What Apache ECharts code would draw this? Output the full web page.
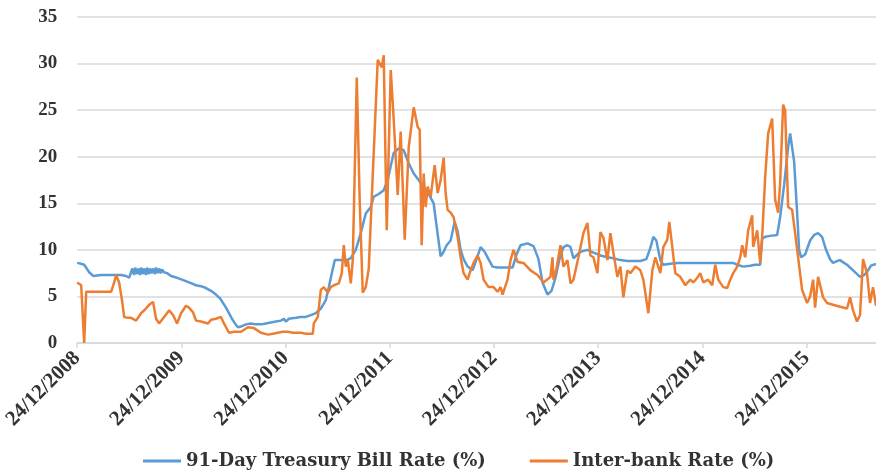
<!DOCTYPE html>
<html>
<head>
<meta charset="utf-8">
<script src="https://cdn.jsdelivr.net/npm/echarts@6/dist/echarts.min.js"></script>
<style>
html,body{margin:0;padding:0;background:#fff;}
#chart{width:876px;height:471px;}
</style>
</head>
<body>
<div id="chart"></div>
<script>
// x values: weeks since 24/12/2008 (weekly observations)
const tickWeeks = [0, 52.2, 104.4, 156.5, 208.7, 260.9, 313.1, 365.3];
const tickLabels = ['24/12/2008','24/12/2009','24/12/2010','24/12/2011','24/12/2012','24/12/2013','24/12/2014','24/12/2015'];
const yTicks = [0, 5, 10, 15, 20, 25, 30, 35];

const tbillWeek = [0,2,3.5,6,8,12,17,22,24.5,26,27,27.5,28.5,29,30,30.5,31.5,32,33,33.5,34.5,35,36,36.5,37.5,38,39,39.5,40.5,41,42,42.5,43.5,
45,47,50,52.5,56,59.5,62,64.5,67,69.5,71.5,73,74.5,76,77.5,79,80.5,82.5,84.5,87,89.5,92,94.5,97,99.5,102,103.5,104.5,106,107,109.5,112,114.5,117,119.5,122,124.5,126,127.5,129,132,135,137,139.5,142,144.5,147,148.5,151,153.5,155.5,157,158.5,161,163.5,166,168.5,172,175.5,178.5,180,182,183.5,185,187,189,190.5,192,193.5,195.5,198,200,202,204,205.5,208,210.5,214.5,218,220,222,225.5,228.5,231,233,235.5,237.5,239.5,241.5,243.5,245.5,247,248.5,250.5,252,255.5,258.5,262,265.5,268.5,272,275.5,278.5,282,285,287,288.5,290,292,293.5,297,300.5,304.5,308.5,312,317,322,325.5,328.5,330.5,333.5,337,339.5,342,343,344.5,347,350.5,352,354,356,357,358,359,360.5,361.5,362.5,364.5,367,369,371,373,375,377,378.5,380.5,382,384,385.5,388,390,392,394,395.5,397.5,400];
const tbillRate = [8.6,8.5,8.4,7.6,7.2,7.3,7.3,7.3,7.2,7.0,7.6,8.0,7.3,8.1,7.4,8.0,7.3,8.1,7.4,8.0,7.3,8.1,7.4,8.0,7.5,8.0,7.4,8.1,7.5,8.0,7.5,7.9,7.6,
7.5,7.2,7.0,6.8,6.5,6.2,6.1,5.9,5.6,5.2,4.8,4.3,3.8,3.2,2.6,2.1,1.7,1.8,2.0,2.1,2.0,2.0,2.1,2.2,2.3,2.4,2.6,2.3,2.6,2.7,2.7,2.8,2.8,3.0,3.2,3.7,4.6,6.0,7.5,8.9,8.9,8.9,9.1,10.0,11.8,13.9,14.6,15.7,16.0,16.4,17.5,19.0,20.4,20.9,20.7,19.3,18.2,17.2,16.2,15.0,12.5,9.3,9.8,10.5,11.0,13.0,12.0,10.0,9.0,8.2,7.8,9.0,10.3,9.8,9.2,8.2,8.1,8.1,8.1,9.5,10.5,10.7,10.4,9.0,6.5,5.2,5.6,7.0,9.0,10.3,10.5,10.3,9.1,9.5,9.8,10.0,9.7,9.4,9.2,9.1,8.9,8.8,8.8,8.8,9.0,10.2,11.4,11.0,8.9,8.4,8.5,8.6,8.6,8.6,8.6,8.6,8.6,8.6,8.6,8.4,8.2,8.3,8.4,8.4,11.2,11.4,11.5,11.6,13.5,17.0,21.0,22.5,22.5,19.5,14.0,10.0,9.2,9.5,11.0,11.6,11.8,11.4,10.0,9.0,8.6,8.8,8.9,8.6,8.4,7.9,7.5,7.1,7.3,7.6,8.3,8.5];

const interbankWeek = [0,2,3,3.5,4.5,5,7,12,17,18.5,19.5,21,22.5,23.5,25.5,27,29.5,32,34,36,38,39.5,41,43.5,46,48,50,52,54.5,56,58,59.5,62,65.5,67,69.5,72,73.5,75,76,78.5,82,85.5,88.5,92,95.5,98,100.5,103,105.5,108,110.5,112,114.5,118,118.5,120.5,122,123.5,125.5,127,128.5,131,132.5,133.5,134.5,135.5,137,138,140,141.5,143,144.5,146,148,150.5,151.5,152.5,153.5,155,157,158.5,160.5,162,164,166,168.5,169.5,170.5,171.5,172.5,173.5,174.5,175.5,177,179,180.5,182,183.5,184.5,185.5,187,188.5,190.5,192,193.5,195.5,197,198.5,200.5,202,203.5,206,208.5,210.5,212,213,215.5,217,218.5,220.5,223.5,227,230.5,233.5,237,238,238.5,240,242,243.5,245.5,247,248.5,251,253.5,255.5,257,258.5,260.5,262,263.5,265.5,267,268.5,270.5,272,273.5,275.5,277,279.5,282,283.5,286,288,289.5,292,293.5,295.5,296.5,298,299.5,302,304.5,307,308.5,310.5,312,313.5,316,318,319.5,321,323.5,325.5,327,328.5,330.5,332,333,334.5,336,338,338.5,340.5,342,343,344.5,346,348,349.5,351,352,353.5,354.5,356,358,359.5,361,363,365.5,367,368.5,369.5,371,373.5,375.5,378.5,382,385.5,387,388.5,390.5,392,393.5,395.5,397,398.5,400];
const interbankRate = [6.5,6.2,6.0,0,5.5,5.7,5.5,5.5,5.5,6.5,7.3,6.5,4.5,2.8,2.7,2.7,2.4,3.2,3.6,4.1,4.4,2.6,2.1,2.8,3.5,3.0,2.1,3.2,4.0,3.8,3.3,2.4,2.3,2.1,2.5,2.6,2.8,2.1,1.5,1.1,1.2,1.2,1.7,1.6,1.1,0.9,1.0,1.1,1.2,1.2,1.1,1.1,1.1,1.0,1.0,2.1,2.8,5.7,6.0,5.4,6.0,6.2,6.4,7.5,10.5,8.2,8.9,6.4,8.9,28.5,15.0,5.4,6.0,8.0,18.0,30.4,30.6,29.6,30.9,12.1,29.3,24.0,15.9,22.7,11.1,21.0,25.3,25.3,23.2,22.9,10.5,18.2,14.6,16.8,15.7,19.1,16.1,17.5,19.9,16.1,14.3,14.0,13.5,11.4,9.2,7.5,6.8,7.8,8.6,9.4,8.6,6.8,6.0,6.0,5.5,6.0,5.2,6.8,8.9,10.0,8.7,8.6,7.8,7.3,6.5,7.1,9.2,6.8,8.0,10.5,8.2,8.9,6.4,6.8,9.2,11.8,12.9,9.4,9.2,7.5,11.9,11.3,8.9,11.8,9.7,7.1,8.2,4.9,7.8,7.5,8.2,7.8,6.8,3.2,7.8,9.2,7.5,10.3,11.1,13.0,10.3,7.5,7.1,6.2,6.8,6.5,7.0,7.5,6.5,6.8,6.2,8.4,6.8,6.0,5.9,6.8,7.5,8.2,9.2,10.5,9.2,12.1,13.7,10.3,12.1,8.6,11.4,17.8,22.5,24.1,15.4,14.0,17.2,25.6,25.0,14.6,14.3,11.8,9.2,5.7,4.3,5.0,6.8,3.8,7.1,4.9,4.3,4.1,3.9,3.7,4.9,3.5,2.3,3.0,9.0,7.5,4.3,6.0,4.0];

const seriesNames = ['91-Day Treasury Bill Rate (%)', 'Inter-bank Rate (%)'];
const seriesColors = ['#5B9BD5', '#ED7D31'];

function pairs(xs, ys){ return xs.map((x,i)=>[x, ys[i]]); }

const chart = echarts.init(document.getElementById('chart'), null, {renderer:'canvas'});
const textColor = '#333333';
const axisFont = 'Liberation Serif';
chart.setOption({
  animation: false,
  backgroundColor: '#ffffff',
  grid: {left: 76, right: 0, top: 17, bottom: 128, containLabel: false},
  legend: {
    top: 447,
    left: 138,
    itemWidth: 38,
    itemHeight: 3,
    itemGap: 44,
    icon: 'rect',
    textStyle: {fontFamily: 'DejaVu Serif', fontSize: 18, fontWeight: 'bold', color: textColor},
    data: seriesNames
  },
  xAxis: {
    type: 'value',
    min: 0,
    max: 400,
    splitLine: {show: false},
    axisLine: {show: true, lineStyle: {color: '#D9D9D9', width: 1.5}},
    axisTick: {show: true, length: 5, lineStyle: {color: '#D9D9D9', width: 1.5}, customValues: tickWeeks},
    axisLabel: {
      customValues: tickWeeks,
      rotate: 45,
      margin: 12,
      fontFamily: axisFont,
      fontSize: 21,
      fontWeight: 'bold',
      color: textColor,
      formatter: function(v){
        let best = 0, d = Infinity;
        tickWeeks.forEach((w,i)=>{ if (Math.abs(w-v) < d){ d = Math.abs(w-v); best = i; } });
        return tickLabels[best];
      }
    }
  },
  yAxis: {
    type: 'value',
    min: 0,
    max: 35,
    interval: 5,
    axisLine: {show: false},
    axisTick: {show: false},
    splitLine: {show: true, lineStyle: {color: '#D9D9D9', width: 1.5}},
    axisLabel: {margin: 20, fontFamily: axisFont, fontSize: 19, fontWeight: 'bold', color: textColor}
  },
  series: [
    {name: seriesNames[0], type: 'line', data: pairs(tbillWeek, tbillRate), showSymbol: false, symbol: 'none',
     lineStyle: {color: seriesColors[0], width: 2.5}, itemStyle: {color: seriesColors[0]}, z: 2},
    {name: seriesNames[1], type: 'line', data: pairs(interbankWeek, interbankRate), showSymbol: false, symbol: 'none',
     lineStyle: {color: seriesColors[1], width: 2.5}, itemStyle: {color: seriesColors[1]}, z: 3}
  ]
});
</script>
</body>
</html>
